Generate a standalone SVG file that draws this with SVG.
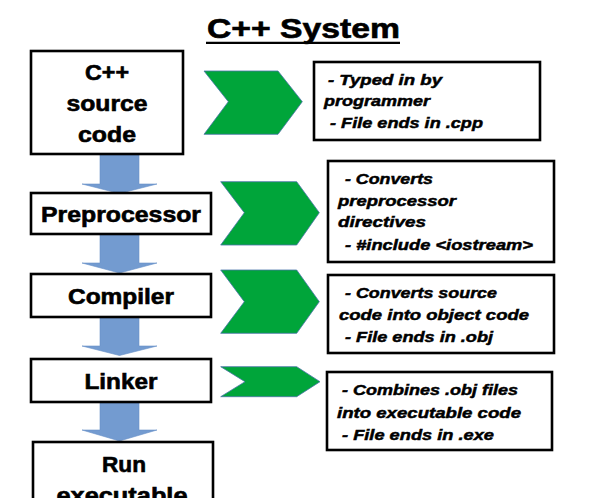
<svg xmlns="http://www.w3.org/2000/svg" width="597" height="498" viewBox="0 0 597 498">
<defs>
<style>
.box{fill:#ffffff;stroke:#000000;stroke-width:2.6}
.lbl{font-family:"Liberation Sans",Arial,sans-serif;font-weight:bold;font-size:22px;fill:#000000;stroke:#000000;stroke-width:0.6;text-anchor:middle}
.note{font-family:"Liberation Sans",Arial,sans-serif;font-weight:bold;font-style:italic;font-size:15.5px;fill:#000000;stroke:#000000;stroke-width:0.5}
.title{font-family:"Liberation Sans",Arial,sans-serif;font-weight:bold;font-size:27px;fill:#000000;stroke:#000000;stroke-width:0.6}
.down{fill:#739BD0;stroke:#6890c8;stroke-width:0.6}
.chev{fill:#00A53A;stroke:#4a74a8;stroke-width:0.8}
</style>
</defs>
<rect width="597" height="498" fill="#ffffff"/>
<g id="title">
<text class="title" x="207" y="37.5" textLength="193" lengthAdjust="spacingAndGlyphs">C++ System</text>
<line x1="206" y1="42.8" x2="400" y2="42.8" stroke="#000000" stroke-width="2.2"/>
</g>
<g id="connectors">
<path class="down" d="M100,155 L139,155 L139,184 L157,184 L119.5,193.5 L82,184 L100,184 Z"/>
<path class="down" d="M100,234 L139,234 L139,263 L157,263 L119.5,273 L82,263 L100,263 Z"/>
<path class="down" d="M100,317 L139,317 L139,346 L157,346 L119.5,355.5 L82,346 L100,346 Z"/>
<path class="down" d="M100,402 L139,402 L139,430 L157,430 L119.5,441 L82,430 L100,430 Z"/>
<path class="chev" d="M204,71 L278,71 L302.3,101.7 L278,134.3 L204,134.3 L228.3,101.7 Z"/>
<path class="chev" d="M220.7,181.7 L296.7,181.7 L319.3,212.7 L296.7,245 L220.7,245 L244.3,212.7 Z"/>
<path class="chev" d="M220.7,270 L296.7,270 L319.3,301.7 L296.7,333.3 L220.7,333.3 L244.3,301.7 Z"/>
<path class="chev" d="M220.7,366.7 L296.7,366.7 L320,381.7 L296.7,396.7 L220.7,396.7 L245,381.7 Z"/>
</g>
<g id="source">
<rect class="box" x="31" y="51" width="152" height="103"/>
<text class="lbl" x="107" y="80" textLength="44" lengthAdjust="spacingAndGlyphs">C++</text>
<text class="lbl" x="107" y="111" textLength="81" lengthAdjust="spacingAndGlyphs">source</text>
<text class="lbl" x="107" y="142" textLength="58" lengthAdjust="spacingAndGlyphs">code</text>
</g>
<g id="preprocessor">
<rect class="box" x="31" y="193" width="180" height="41"/>
<text class="lbl" x="121" y="222" textLength="160" lengthAdjust="spacingAndGlyphs">Preprocessor</text>
</g>
<g id="compiler">
<rect class="box" x="31" y="274" width="180" height="43"/>
<text class="lbl" x="121" y="304" textLength="106" lengthAdjust="spacingAndGlyphs">Compiler</text>
</g>
<g id="linker">
<rect class="box" x="31" y="359" width="180" height="43"/>
<text class="lbl" x="121" y="389" textLength="73" lengthAdjust="spacingAndGlyphs">Linker</text>
</g>
<g id="run">
<rect class="box" x="33" y="442" width="180" height="80"/>
<text class="lbl" x="124" y="472" textLength="44" lengthAdjust="spacingAndGlyphs">Run</text>
<text class="lbl" x="122" y="503" textLength="131" lengthAdjust="spacingAndGlyphs">executable</text>
</g>
<g id="note-source">
<rect class="box" x="314" y="62" width="226" height="78"/>
<text class="note" x="328" y="85" textLength="114" lengthAdjust="spacingAndGlyphs">- Typed in by</text>
<text class="note" x="324" y="106" textLength="106" lengthAdjust="spacingAndGlyphs">programmer</text>
<text class="note" x="330" y="128" textLength="153" lengthAdjust="spacingAndGlyphs">- File ends in .cpp</text>
</g>
<g id="note-preprocessor">
<rect class="box" x="328" y="161" width="226" height="101"/>
<text class="note" x="345" y="184" textLength="88" lengthAdjust="spacingAndGlyphs">- Converts</text>
<text class="note" x="338" y="206" textLength="118" lengthAdjust="spacingAndGlyphs">preprocessor</text>
<text class="note" x="338" y="227" textLength="88" lengthAdjust="spacingAndGlyphs">directives</text>
<text class="note" x="345" y="250" textLength="188" lengthAdjust="spacingAndGlyphs">- #include &lt;iostream&gt;</text>
</g>
<g id="note-compiler">
<rect class="box" x="328" y="275" width="226" height="78"/>
<text class="note" x="345" y="298" textLength="152" lengthAdjust="spacingAndGlyphs">- Converts source</text>
<text class="note" x="339" y="320" textLength="190" lengthAdjust="spacingAndGlyphs">code into object code</text>
<text class="note" x="345" y="342" textLength="148" lengthAdjust="spacingAndGlyphs">- File ends in .obj</text>
</g>
<g id="note-linker">
<rect class="box" x="327" y="372" width="225" height="78"/>
<text class="note" x="342" y="395" textLength="176" lengthAdjust="spacingAndGlyphs">- Combines .obj files</text>
<text class="note" x="337" y="418" textLength="184" lengthAdjust="spacingAndGlyphs">into executable code</text>
<text class="note" x="342" y="440" textLength="152" lengthAdjust="spacingAndGlyphs">- File ends in .exe</text>
</g>
</svg>
